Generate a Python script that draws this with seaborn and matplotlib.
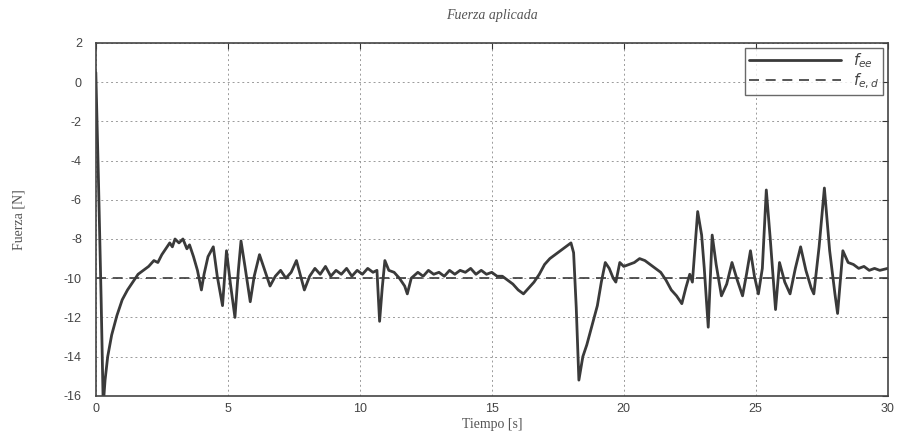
import matplotlib
matplotlib.use("Agg")
import matplotlib.pyplot as plt
import seaborn as sns
import pandas as pd

# ---- data ----
tiempo = [0.0, 0.1, 0.2, 0.28, 0.35, 0.45, 0.6, 0.8, 1.0, 1.2, 1.4, 1.6, 1.8, 2.0,
          2.2, 2.35, 2.5, 2.65, 2.8, 2.9, 3.0, 3.15, 3.3, 3.45, 3.55, 3.7, 3.85,
          4.0, 4.1, 4.25, 4.45, 4.6, 4.8, 4.95, 5.1, 5.27, 5.4, 5.5, 5.65, 5.85,
          6.0, 6.2, 6.4, 6.6, 6.8, 7.0, 7.2, 7.4, 7.6, 7.9, 8.1, 8.3, 8.5, 8.7,
          8.9, 9.1, 9.3, 9.5, 9.7, 9.9, 10.1, 10.3, 10.5, 10.65, 10.75, 10.85,
          10.95, 11.1, 11.3, 11.5, 11.7, 11.8, 11.95, 12.2, 12.4, 12.6, 12.8,
          13.0, 13.2, 13.4, 13.6, 13.8, 14.0, 14.2, 14.4, 14.6, 14.8, 15.0,
          15.2, 15.4, 15.6, 15.8, 16.0, 16.2, 16.4, 16.6, 16.8, 17.0, 17.2,
          17.4, 17.6, 17.8, 18.0, 18.1, 18.2, 18.3, 18.45, 18.6, 18.8, 19.0,
          19.15, 19.3, 19.45, 19.6, 19.7, 19.85, 20.0, 20.2, 20.4, 20.6, 20.8,
          21.0, 21.2, 21.4, 21.6, 21.8, 22.0, 22.2, 22.35, 22.5, 22.6, 22.8,
          22.95, 23.05, 23.2, 23.35, 23.5, 23.7, 23.9, 24.1, 24.3, 24.5, 24.65,
          24.8, 24.95, 25.1, 25.25, 25.4, 25.55, 25.75, 25.9, 26.1, 26.3, 26.5,
          26.7, 26.9, 27.1, 27.2, 27.4, 27.6, 27.8, 28.0, 28.1, 28.3, 28.5,
          28.7, 28.9, 29.1, 29.3, 29.5, 29.7, 30.0]
f_ee = [0.5, -5.0, -11.0, -16.5, -15.2, -14.0, -12.9, -11.9, -11.1, -10.6, -10.2,
        -9.8, -9.6, -9.4, -9.1, -9.2, -8.8, -8.5, -8.2, -8.4, -8.0, -8.2, -8.0,
        -8.5, -8.3, -8.9, -9.6, -10.6, -9.8, -8.9, -8.4, -9.9, -11.4, -8.6,
        -10.3, -12.0, -9.6, -8.1, -9.4, -11.2, -9.9, -8.8, -9.6, -10.4, -9.9,
        -9.6, -10.0, -9.7, -9.1, -10.6, -9.9, -9.5, -9.8, -9.4, -9.9, -9.6,
        -9.8, -9.5, -9.9, -9.6, -9.8, -9.5, -9.7, -9.6, -12.2, -10.5, -9.1,
        -9.6, -9.7, -10.0, -10.4, -10.8, -10.0, -9.7, -9.9, -9.6, -9.8, -9.7,
        -9.9, -9.6, -9.8, -9.6, -9.7, -9.5, -9.8, -9.6, -9.8, -9.7, -9.9,
        -9.9, -10.1, -10.3, -10.6, -10.8, -10.5, -10.2, -9.8, -9.3, -9.0, -8.8,
        -8.6, -8.4, -8.2, -8.7, -11.5, -15.2, -14.0, -13.4, -12.4, -11.4, -10.2,
        -9.2, -9.5, -10.0, -10.2, -9.2, -9.4, -9.3, -9.2, -9.0, -9.1, -9.3,
        -9.5, -9.7, -10.1, -10.6, -10.9, -11.3, -10.5, -9.8, -10.2, -6.6, -7.8,
        -9.5, -12.5, -7.8, -9.3, -10.9, -10.3, -9.2, -10.1, -10.9, -9.8, -8.6,
        -9.9, -10.8, -9.5, -5.5, -8.0, -11.6, -9.2, -10.2, -10.8, -9.5, -8.4,
        -9.6, -10.5, -10.8, -8.4, -5.4, -8.6, -10.8, -11.8, -8.6, -9.2, -9.3,
        -9.5, -9.4, -9.6, -9.5, -9.6, -9.5]
tiempo_ref = [0.0, 30.0]
f_ed = [-10.0, -10.0]

x_ticks = [0, 5, 10, 15, 20, 25, 30]
y_ticks = [2, 0, -2, -4, -6, -8, -10, -12, -14, -16]

df = pd.DataFrame({"t": tiempo, "f": f_ee})
df_ref = pd.DataFrame({"t": tiempo_ref, "f": f_ed})

sns.set_theme(style="white")
plt.rcParams["font.family"] = ["Liberation Sans", "DejaVu Sans"]
plt.rcParams["axes.unicode_minus"] = False

fig = plt.figure(figsize=(9.04, 4.34), dpi=100)
ax = fig.add_axes([0.106, 0.088, 0.876, 0.813])

line_col = "#3a3a3a"
sns.lineplot(data=df, x="t", y="f", ax=ax, color=line_col, linewidth=2.0,
             label=r"$f_{ee}$")
sns.lineplot(data=df_ref, x="t", y="f", ax=ax, color=line_col, linewidth=1.2,
             linestyle=(0, (6, 4)), label=r"$f_{e,d}$")

ax.set_xlim(0, 30)
ax.set_ylim(-16, 2)
ax.set_xticks(x_ticks)
ax.set_yticks(y_ticks)
ax.tick_params(direction="in", top=True, right=True, length=4, width=0.8,
               colors="#333333", labelsize=9, labelcolor="#444444")
ax.tick_params(axis="y", pad=10)
ax.tick_params(axis="x", pad=5)
ax.grid(True, linestyle=(0, (2, 3)), color="#9a9a9a", linewidth=0.7)
for s in ax.spines.values():
    s.set_color("#444444")
    s.set_linewidth(1.2)

serif = ["Liberation Serif", "DejaVu Serif"]
ax.set_title("Fuerza aplicada", fontsize=10, fontstyle="italic",
             family=serif, color="#555555", pad=17)
ax.set_xlabel("Tiempo [s]", fontsize=10, family=serif, color="#555555", labelpad=2)
ax.set_ylabel("Fuerza [N]", fontsize=10, family=serif, color="#555555", labelpad=28)

leg = ax.legend(loc="upper right", fontsize=11, frameon=True, fancybox=False,
                handlelength=6, borderaxespad=0.3, labelspacing=0.1,
                borderpad=0.25)
leg.get_frame().set_edgecolor("#444444")
leg.get_frame().set_linewidth(1.0)
for txt in leg.get_texts():
    txt.set_color("#444444")

fig.savefig("out.png", dpi=100, facecolor="white")
